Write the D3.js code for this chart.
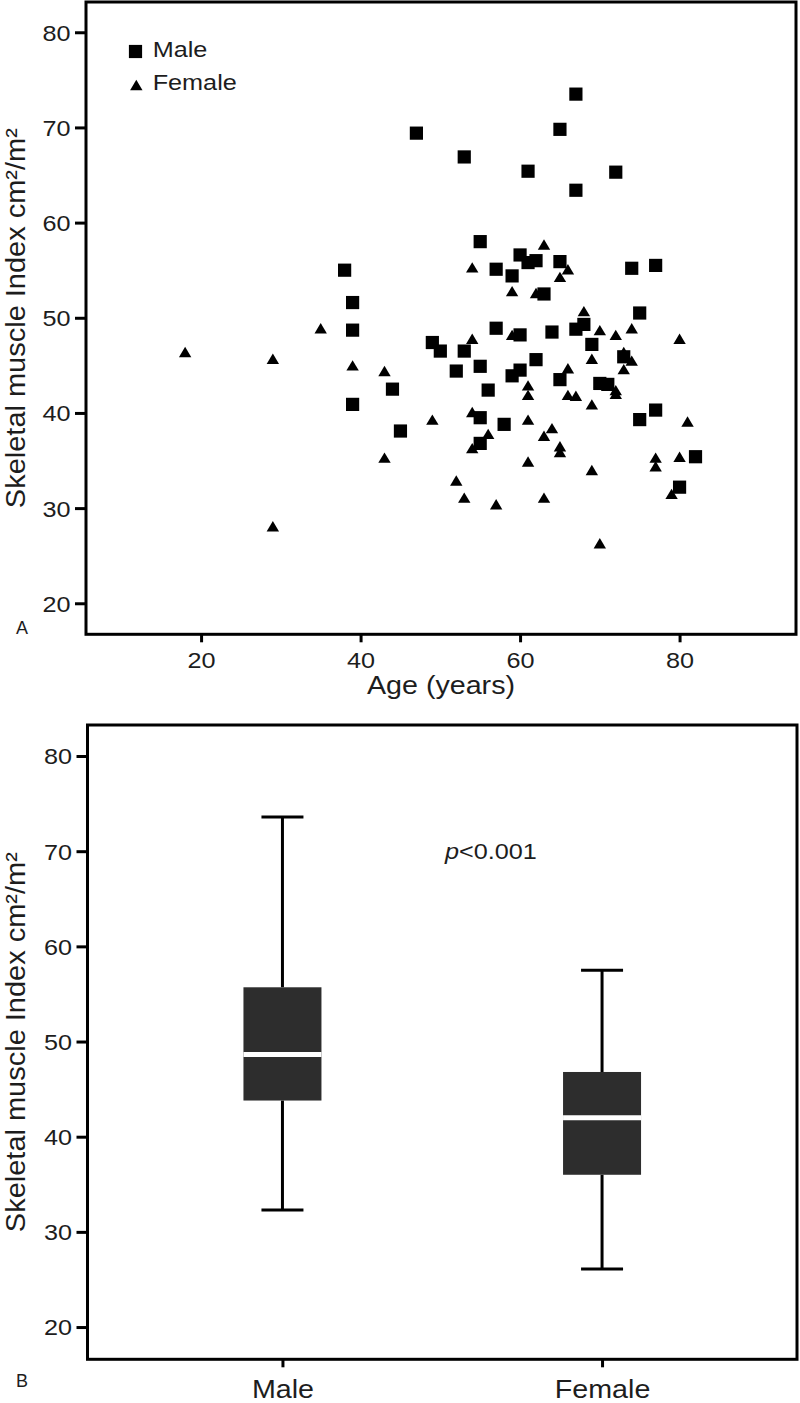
<!DOCTYPE html>
<html>
<head>
<meta charset="utf-8">
<script src="https://cdn.jsdelivr.net/npm/d3@7"></script>
<style>
  body { margin: 0; background: #fff; }
  svg { display: block; }
</style>
</head>
<body>
<svg id="chart" width="800" height="1403"></svg>
<script>
// ---------------- data ----------------
const maleAge = [67,47,65,53,61,72,67,55,60,61,62,65,57,59,74,77,63,75,57,60,64,67,68,49,50,53,52,55,59,60,62,56,65,69,73,70,71,55,58,55,75,77,82,80,38,39,39,44,39,45];
const maleSMI = [73.5,69.4,69.8,66.9,65.4,65.3,63.4,58.0,56.6,55.8,56.0,55.9,55.1,54.4,55.2,55.5,52.5,50.5,48.9,48.2,48.5,48.8,49.3,47.4,46.5,46.5,44.4,44.9,43.9,44.5,45.6,42.4,43.5,47.2,45.9,43.1,43.0,39.5,38.8,36.8,39.3,40.3,35.4,32.2,55.0,51.6,48.7,42.5,40.9,38.1];
const femaleAge = [63,66,54,65,59,62,68,59,54,70,72,74,80,69,73,74,73,66,61,61,66,67,70,72,72,69,49,54,61,56,54,64,63,65,65,81,77,77,80,61,69,52,53,57,63,79,70,35,18,29,39,43,43,29];
const femaleSMI = [57.7,55.1,55.3,54.3,52.8,52.6,50.7,48.2,47.8,48.7,48.2,48.9,47.8,45.7,46.4,45.5,44.6,44.7,42.9,41.9,41.9,41.8,43.2,42.4,42.0,40.9,39.3,40.1,39.3,37.8,36.3,38.4,37.6,36.5,35.9,39.1,35.3,34.4,35.4,34.9,34.0,32.9,31.1,30.4,31.1,31.5,26.3,48.9,46.4,45.7,45.0,44.4,35.3,28.1];

const groups = ["Male", "Female"];
const boxMin    = [32.3, 26.1];
const boxQ1     = [43.8, 36.0];
const boxMedian = [48.65, 42.0];
const boxQ3     = [55.7, 46.8];
const boxMax    = [73.6, 57.5];

const yTicks = [20, 30, 40, 50, 60, 70, 80];
const xTicks = [20, 40, 60, 80];
const ageDomain = [5.57, 94.6];
const smiDomainA = [16.74, 83.18];
const smiDomainB = [16.61, 83.26];

const yTitle = "Skeletal muscle Index cm\u00B2/m\u00B2";
const xTitle = "Age (years)";
const pText = "<0.001";

// ---------------- style ----------------
const FONT = "'Liberation Sans', Arial, Helvetica, sans-serif";
const TXT = "#1d1d1d";
const SX = 1.146; // horizontal stretch of the reference lettering
const svg = d3.select("#chart");

function stretch(sel) {
  sel.each(function () {
    const w = this.getComputedTextLength();
    d3.select(this).attr("textLength", w * SX).attr("lengthAdjust", "spacingAndGlyphs");
  });
}

function styleAxis(g) {
  g.select(".domain").remove();
  g.selectAll(".tick line").attr("stroke", "#000").attr("stroke-width", 3);
  g.selectAll(".tick text").attr("font-family", FONT).attr("fill", TXT);
}

function drawYAxis(y, x0) {
  const g = svg.append("g").attr("transform", `translate(${x0},0)`)
    .call(d3.axisLeft(y).tickValues(yTicks).tickSize(11).tickPadding(4.5).tickFormat(d3.format("d")));
  styleAxis(g);
  g.selectAll(".tick text").attr("font-size", 22).attr("dy", "0.36em");
  stretch(g.selectAll(".tick text"));
}

function yTitleText(y) {
  const [a, b] = y.range();
  const cy = (a + b) / 2;
  svg.append("text")
    .attr("transform", `translate(25,${cy}) rotate(-90)`)
    .attr("text-anchor", "middle")
    .attr("font-family", FONT).attr("font-size", 27).attr("fill", TXT)
    .attr("textLength", 380).attr("lengthAdjust", "spacingAndGlyphs")
    .text(yTitle);
}

// ================= Panel A: scatter =================
const xA = d3.scaleLinear().domain(ageDomain).range([86, 796]);
const yA = d3.scaleLinear().domain(smiDomainA).range([634.3, 2]);

drawYAxis(yA, 86);
const gxA = svg.append("g").attr("transform", `translate(0,${yA.range()[0]})`)
  .call(d3.axisBottom(xA).tickValues(xTicks).tickSize(8).tickFormat(d3.format("d")));
styleAxis(gxA);
gxA.selectAll(".tick text").attr("font-size", 22).attr("y", 34).attr("dy", null);
stretch(gxA.selectAll(".tick text"));

// frame
svg.append("rect")
  .attr("x", xA.range()[0]).attr("y", yA.range()[1])
  .attr("width", xA.range()[1] - xA.range()[0]).attr("height", yA.range()[0] - yA.range()[1])
  .attr("fill", "none").attr("stroke", "#000").attr("stroke-width", 3);

const triPath = "M0,-5.2L6.2,5.2L-6.2,5.2Z";
const sqPath = "M-6.6,-6.6H6.6V6.6H-6.6Z";

const females = femaleAge.map((a, i) => ({ a, v: femaleSMI[i] }));
const males = maleAge.map((a, i) => ({ a, v: maleSMI[i] }));

svg.append("g").selectAll("path").data(females).join("path")
  .attr("d", triPath).attr("fill", "#000")
  .attr("transform", d => `translate(${xA(d.a)},${yA(d.v)})`);
svg.append("g").selectAll("path").data(males).join("path")
  .attr("d", sqPath).attr("fill", "#000")
  .attr("transform", d => `translate(${xA(d.a)},${yA(d.v)})`);

// legend
const leg = svg.append("g");
leg.append("path").attr("d", sqPath).attr("fill", "#000").attr("transform", "translate(135.5,51.5)");
leg.append("path").attr("d", triPath).attr("fill", "#000").attr("transform", "translate(136.3,85)");
leg.append("text").attr("x", 152.7).attr("y", 57.3).text("Male");
leg.append("text").attr("x", 152.7).attr("y", 90).text("Female");
leg.selectAll("text").attr("font-family", FONT).attr("font-size", 22).attr("fill", TXT);
stretch(leg.selectAll("text"));

yTitleText(yA);
const xt = svg.append("text")
  .attr("x", (xA.range()[0] + xA.range()[1]) / 2).attr("y", 694)
  .attr("text-anchor", "middle")
  .attr("font-family", FONT).attr("font-size", 25).attr("fill", TXT)
  .text(xTitle);
stretch(xt);

svg.append("text").attr("x", 16).attr("y", 634)
  .attr("font-family", FONT).attr("font-size", 18).attr("fill", TXT).text("A");

// ================= Panel B: box plot =================
const xB = d3.scalePoint().domain(groups).range([87.5, 797]).padding(0.61);
const yB = d3.scaleLinear().domain(smiDomainB).range([1359.3, 725]);

drawYAxis(yB, 87.5);
const gxB = svg.append("g").attr("transform", `translate(0,${yB.range()[0]})`)
  .call(d3.axisBottom(xB).tickSize(8));
styleAxis(gxB);
gxB.selectAll(".tick text").attr("font-size", 25).attr("y", 39).attr("dy", null);
stretch(gxB.selectAll(".tick text"));

svg.append("rect")
  .attr("x", xB.range()[0]).attr("y", yB.range()[1])
  .attr("width", xB.range()[1] - xB.range()[0]).attr("height", yB.range()[0] - yB.range()[1])
  .attr("fill", "none").attr("stroke", "#000").attr("stroke-width", 3);

const boxes = groups.map((g, i) => ({
  g, min: boxMin[i], q1: boxQ1[i], med: boxMedian[i], q3: boxQ3[i], max: boxMax[i]
}));
const boxW = 78, capW = 42;
const bg = svg.append("g").selectAll("g").data(boxes).join("g");
// whiskers
bg.append("line")
  .attr("x1", d => xB(d.g)).attr("x2", d => xB(d.g))
  .attr("y1", d => yB(d.max)).attr("y2", d => yB(d.q3))
  .attr("stroke", "#000").attr("stroke-width", 3);
bg.append("line")
  .attr("x1", d => xB(d.g)).attr("x2", d => xB(d.g))
  .attr("y1", d => yB(d.q1)).attr("y2", d => yB(d.min))
  .attr("stroke", "#000").attr("stroke-width", 3);
bg.append("line")
  .attr("x1", d => xB(d.g) - capW / 2).attr("x2", d => xB(d.g) + capW / 2)
  .attr("y1", d => yB(d.max)).attr("y2", d => yB(d.max))
  .attr("stroke", "#000").attr("stroke-width", 3);
bg.append("line")
  .attr("x1", d => xB(d.g) - capW / 2).attr("x2", d => xB(d.g) + capW / 2)
  .attr("y1", d => yB(d.min)).attr("y2", d => yB(d.min))
  .attr("stroke", "#000").attr("stroke-width", 3);
// box
bg.append("rect")
  .attr("x", d => xB(d.g) - boxW / 2).attr("width", boxW)
  .attr("y", d => yB(d.q3)).attr("height", d => yB(d.q1) - yB(d.q3))
  .attr("fill", "#2d2d2d");
// median
bg.append("line")
  .attr("x1", d => xB(d.g) - boxW / 2).attr("x2", d => xB(d.g) + boxW / 2)
  .attr("y1", d => yB(d.med)).attr("y2", d => yB(d.med))
  .attr("stroke", "#fff").attr("stroke-width", 5);

// p value
const pt = svg.append("text").attr("x", 445).attr("y", yB(70) + 8)
  .attr("font-family", FONT).attr("font-size", 22).attr("fill", TXT);
pt.append("tspan").attr("font-style", "italic").text("p");
pt.append("tspan").text(pText);
stretch(pt);

yTitleText(yB);

svg.append("text").attr("x", 16).attr("y", 1387)
  .attr("font-family", FONT).attr("font-size", 18).attr("fill", TXT).text("B");
</script>
</body>
</html>
